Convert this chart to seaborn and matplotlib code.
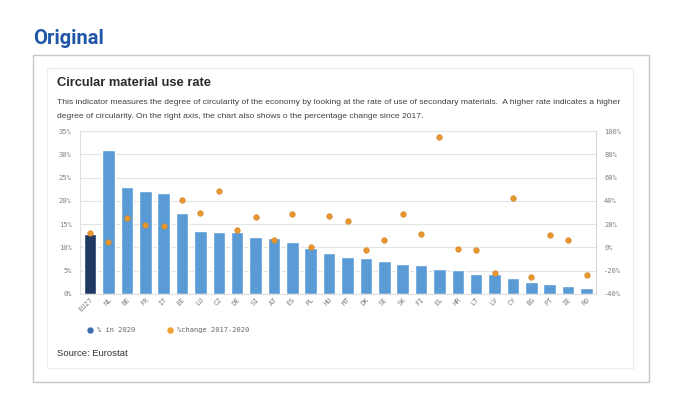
import numpy as np
import seaborn as sns
import matplotlib.pyplot as plt
from matplotlib.patches import Rectangle
from matplotlib.lines import Line2D

countries = ["EU27", "NL", "BE", "FR", "IT", "EE", "LU", "CZ", "DE", "SI", "AT", "ES", "PL", "HU",
             "MT", "DK", "SE", "SK", "FI", "EL", "HR", "LT", "LV", "CY", "BG", "PT", "IE", "RO"]
rate_2020 = [12.8, 30.9, 23.0, 22.2, 21.6, 17.3, 13.6, 13.4, 13.4, 12.3, 12.0, 11.2, 9.9, 8.7,
             7.9, 7.7, 7.1, 6.4, 6.2, 5.4, 5.1, 4.4, 4.2, 3.4, 2.6, 2.2, 1.8, 1.3]
change_2017_2020 = [12.0, 4.6, 25.2, 18.9, 18.3, 40.8, 29.3, 48.5, 14.6, 26.4, 6.0, 28.4, 0.5, 27.3,
                    22.4, -2.1, 6.6, 29.0, 11.5, 94.8, -1.5, -1.8, -21.9, 42.8, -25.6, 10.6, 6.6, -23.3]
left_ticks = [0, 5, 10, 15, 20, 25, 30, 35]
right_ticks = [-40, -20, 0, 20, 40, 60, 80, 100]

BAR = "#5B9BD5"
EU_BAR = "#1F3864"
DOT = "#E8972F"
TICK = "#7f7f7f"
MONO = "DejaVu Sans Mono"

sns.set_style("white")
plt.rcParams["font.family"] = ["Liberation Sans", "DejaVu Sans"]

W, H = 680, 408
fig = plt.figure(figsize=(W / 100, H / 100), dpi=100)

def fx(px):
    return px / W

def fy(py):
    return 1 - py / H

# frames
fig.patches.append(Rectangle((fx(33), fy(382)), fx(616), (382 - 55) / H, transform=fig.transFigure,
                             fill=False, edgecolor="#c6c6c6", lw=1.0))
fig.patches.append(Rectangle((fx(47), fy(368)), fx(586), (368 - 68) / H, transform=fig.transFigure,
                             fill=False, edgecolor="#ececec", lw=0.8))

fig.text(fx(33), fy(38), "Original", fontsize=14.5, fontweight="bold", color="#1F56A8",
         family=["Roboto", "DejaVu Sans"], va="center", ha="left")
fig.text(fx(57), fy(83), "Circular material use rate", fontsize=9.3, fontweight="bold", color="#2a2a2a",
         va="center", ha="left")
fig.text(fx(57), fy(103), "This indicator measures the degree of circularity of the economy by looking at the rate of use of secondary materials.  A higher rate indicates a higher",
         fontsize=6.1, color="#404040", va="center", ha="left")
fig.text(fx(57), fy(116), "degree of circularity. On the right axis, the chart also shows o the percentage change since 2017.",
         fontsize=6.1, color="#404040", va="center", ha="left")
fig.text(fx(57), fy(353), "Source: Eurostat", fontsize=6.8, color="#333333", va="center", ha="left")

ax = fig.add_axes([fx(80), fy(294), fx(595.7 - 80), (294 - 131) / H])
colors = [EU_BAR] + [BAR] * (len(countries) - 1)
sns.barplot(x=countries, y=rate_2020, hue=countries, palette=colors, legend=False,
            saturation=1, width=0.68, ax=ax, zorder=2)
ax.set_xlim(-0.55, len(countries) - 0.5)
ax.set_ylim(0, 35)
ax.set_yticks(left_ticks)
ax.set_yticklabels([f"{t}%" for t in left_ticks])
ax.yaxis.grid(True, color="#e3e3e3", lw=0.8, zorder=0)
ax.set_axisbelow(True)
ax.set_xlabel("")
ax.set_ylabel("")
ax.tick_params(axis="x", length=0, pad=2, labelsize=5, labelcolor=TICK)
ax.tick_params(axis="y", length=0, pad=6, labelsize=5, labelcolor=TICK)
for lab in ax.get_xticklabels():
    lab.set_rotation(45)
    lab.set_ha("right")
    lab.set_rotation_mode("anchor")
    lab.set_family(MONO)
for lab in ax.get_yticklabels():
    lab.set_family(MONO)
for s in ["top", "right"]:
    ax.spines[s].set_visible(False)
ax.spines["left"].set_color("#e0e0e0")
ax.spines["bottom"].set_color("#e0e0e0")

ax2 = ax.twinx()
sns.scatterplot(x=np.arange(len(countries)), y=change_2017_2020, color=DOT, s=16,
                edgecolor="#d0841f", linewidth=0.4, ax=ax2, zorder=3)
ax2.set_ylim(-40, 100)
ax2.set_yticks(right_ticks)
ax2.set_yticklabels([f"{t}%" for t in right_ticks])
ax2.tick_params(axis="y", length=0, pad=6, labelsize=5, labelcolor=TICK)
for lab in ax2.get_yticklabels():
    lab.set_family(MONO)
for s in ["top", "left", "bottom"]:
    ax2.spines[s].set_visible(False)
ax2.spines["right"].set_color("#d6d6d6")
ax2.set_xlim(-0.55, len(countries) - 0.5)

handles = [Line2D([], [], marker="o", ls="", color="#3C6FB0", markersize=3.6),
           Line2D([], [], marker="o", ls="", color="#F0A030", markersize=3.6)]
leg = fig.legend(handles, ["% in 2020", "%change 2017-2020"], loc="center left",
                 bbox_to_anchor=(fx(80), fy(330)), ncol=2, frameon=False, handletextpad=0.5,
                 handlelength=1.0, columnspacing=4.6,
                 prop={"family": MONO, "size": 5})
for t in leg.get_texts():
    t.set_color("#666666")

fig.savefig("out.png", dpi=100, facecolor="white")
